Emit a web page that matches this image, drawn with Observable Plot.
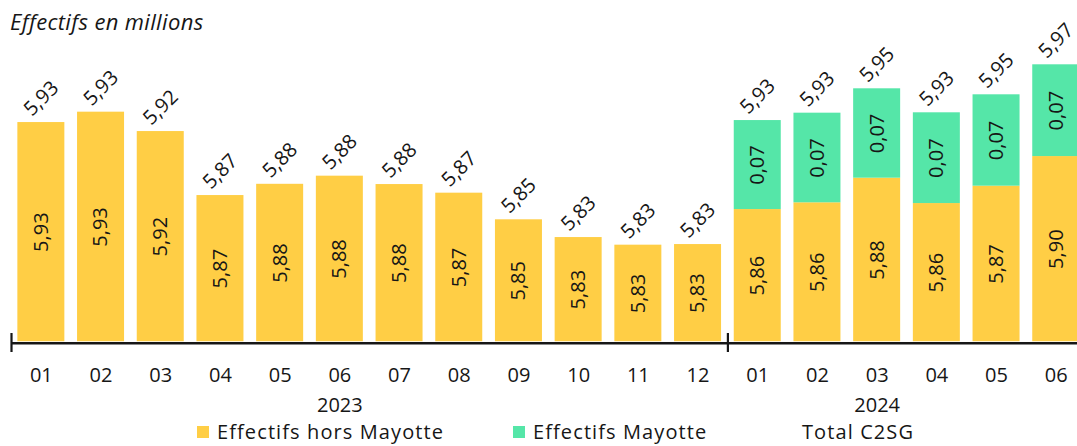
<!DOCTYPE html>
<html>
<head>
<meta charset="utf-8">
<script src="https://cdn.jsdelivr.net/npm/d3@7"></script>
<script src="https://cdn.jsdelivr.net/npm/@observablehq/plot@0.6"></script>
<style>
  html, body { margin: 0; padding: 0; background: #fff; }
  body { width: 1077px; height: 446px; overflow: hidden; font-family: "Open Sans", sans-serif; color: #161616; }
  #title { height: 36px; line-height: 36px; padding-left: 10px; font-size: 22px; letter-spacing: 0.35px; font-style: italic; box-sizing: border-box; padding-top: 3px; }
  #chart svg { overflow: visible; display: block; }
  #legend { position: relative; height: 22px; margin-top: -3px; font-size: 20px; letter-spacing: 1.1px; line-height: 22px; }
  #legend .item { position: absolute; top: 0; height: 22px; line-height: 22px; display: flex; align-items: center; white-space: nowrap; }
  #legend .sw { width: 12px; height: 12px; margin-right: 8px; flex: none; }
</style>
</head>
<body>
<div id="title">Effectifs en millions</div>
<div id="chart"></div>
<div id="legend"></div>
<script>
// ---- data ----
const months = ["2023-01","2023-02","2023-03","2023-04","2023-05","2023-06","2023-07","2023-08","2023-09","2023-10","2023-11","2023-12",
                "2024-01","2024-02","2024-03","2024-04","2024-05","2024-06"];
const monthLabels = ["01","02","03","04","05","06","07","08","09","10","11","12","01","02","03","04","05","06"];
const horsMayotte = [5.9254, 5.9337, 5.9182, 5.8670, 5.8760, 5.8825, 5.8758, 5.8689, 5.8476, 5.8334, 5.8273, 5.8278,
                     5.8558, 5.8612, 5.8809, 5.8606, 5.8745, 5.8982];
const mayotte = [null, null, null, null, null, null, null, null, null, null, null, null,
                 0.0712, 0.0717, 0.0715, 0.0726, 0.0731, 0.0734];
const yearLabels = ["2023", "2024"];
const yearAnchors = ["2023-06", "2024-03"];
const seriesNames = ["Effectifs hors Mayotte", "Effectifs Mayotte", "Total C2SG"];
const seriesColors = ["#ffce45", "#55e6a8", "transparent"];

// ---- derived table ----
const yMin = 5.75, yMax = 5.99;
const fmt = v => d3.format(".2f")(v).replace(".", ",");
const rows = [];
months.forEach((m, i) => {
  rows.push({month: m, series: seriesNames[0], value: horsMayotte[i], mid: (yMin + horsMayotte[i]) / 2});
  if (mayotte[i] != null) rows.push({month: m, series: seriesNames[1], value: mayotte[i], mid: horsMayotte[i] + mayotte[i] / 2});
});
const totals = months.map((m, i) => ({month: m, total: horsMayotte[i] + (mayotte[i] || 0)}));

const W = 1077, H = 388, mTop = 5.3, mBottom = 82.7, mLeft = 11, mRight = 0;
const frameH = H - mTop - mBottom;
const xRange = [11, 1085.6];
const step = (xRange[1] - xRange[0]) / months.length;

const chart = Plot.plot({
  width: W, height: H,
  marginTop: mTop, marginBottom: mBottom, marginLeft: mLeft, marginRight: mRight,
  style: {fontFamily: "'Open Sans', sans-serif", fontSize: "20px", color: "#161616", background: "#fff"},
  x: {domain: months, range: xRange, paddingInner: 0.2127, paddingOuter: 0.1064, round: false, axis: null},
  y: {domain: [yMin, yMax], axis: null},
  color: {domain: seriesNames, range: seriesColors},
  marks: [
    Plot.barY(rows, Plot.stackY({x: "month", y: "value", fill: "series", order: seriesNames, clip: true})),
    Plot.text(rows, {x: "month", y: "mid", text: d => fmt(d.value), rotate: -90, fontSize: 20, fill: "#161616"}),
    Plot.text(totals, {x: "month", y: "total", text: d => fmt(d.total), rotate: -45, dy: -24, fontSize: 20, fill: "#161616"}),
    Plot.ruleY([yMin], {stroke: "#161616", strokeWidth: 2.5, dy: 1.5}),
    Plot.ruleX(["2023-01", "2024-01"], {x: d => d, dx: -step / 2, stroke: "#161616", strokeWidth: 2.2,
      insetTop: frameH - 8.3, insetBottom: -10.7}),
    Plot.axisX({tickSize: 0, tickPadding: 25.7, label: null, tickFormat: d => monthLabels[months.indexOf(d)], fontSize: 20, fill: "#161616"}),
    Plot.text(yearLabels, {x: (d, i) => yearAnchors[i], text: d => d, frameAnchor: "bottom", lineAnchor: "top", dy: 55.7, fontSize: 20, fill: "#161616"})
  ]
});
document.getElementById("chart").appendChild(chart);

// ---- legend ----
const legendLeft = [197, 513, 782];
const legend = document.getElementById("legend");
seriesNames.forEach((name, i) => {
  const item = document.createElement("div");
  item.className = "item";
  item.style.left = legendLeft[i] + "px";
  const sw = document.createElement("span");
  sw.className = "sw";
  sw.style.background = seriesColors[i];
  const label = document.createElement("span");
  label.textContent = name;
  item.appendChild(sw); item.appendChild(label);
  legend.appendChild(item);
});
</script>
</body>
</html>
